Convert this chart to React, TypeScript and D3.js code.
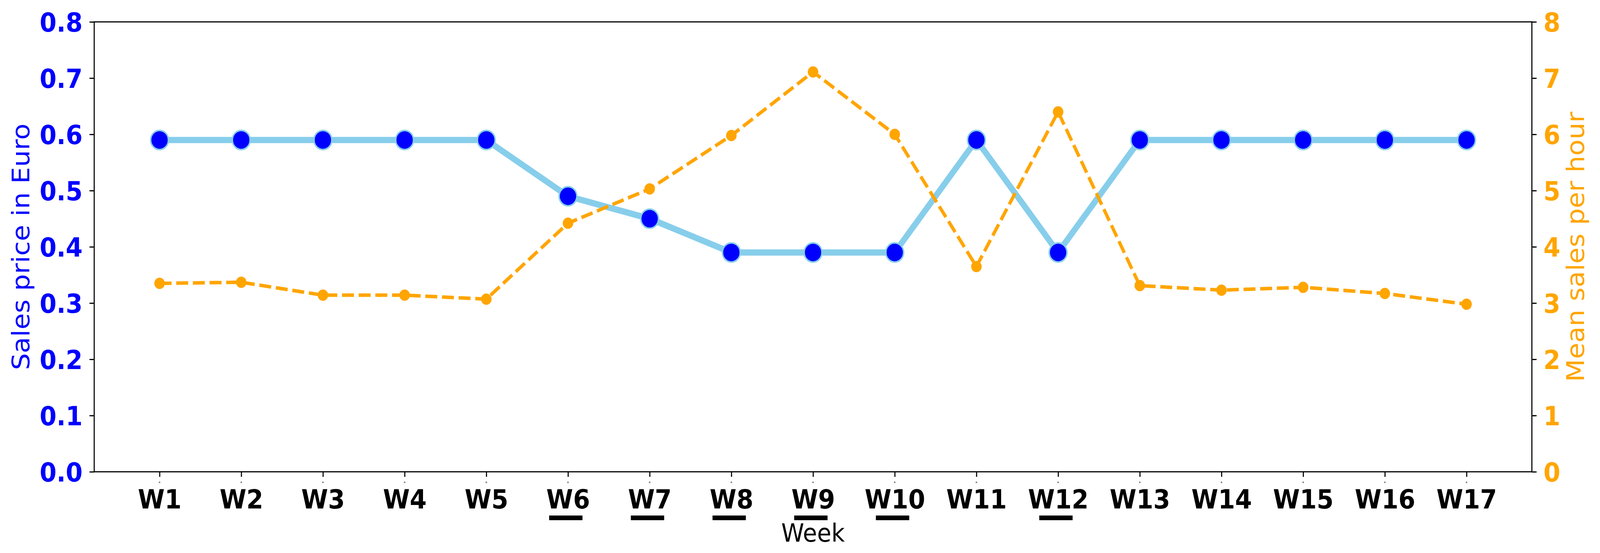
import { useEffect, useRef } from "react";
import { select, scaleLinear, scalePoint, axisBottom, axisLeft, axisRight, line, format } from "d3";

const weeks = ["W1", "W2", "W3", "W4", "W5", "W6", "W7", "W8", "W9", "W10", "W11", "W12", "W13", "W14", "W15", "W16", "W17"];
const salesPrice = [0.59, 0.59, 0.59, 0.59, 0.59, 0.49, 0.45, 0.39, 0.39, 0.39, 0.59, 0.39, 0.59, 0.59, 0.59, 0.59, 0.59];
const meanSales = [3.35, 3.37, 3.14, 3.14, 3.07, 4.42, 5.03, 5.98, 7.11, 6.0, 3.65, 6.4, 3.31, 3.23, 3.28, 3.17, 2.98];
const underlinedWeeks = ["W6", "W7", "W8", "W9", "W10", "W12"];
const priceTicks = [0, 0.1, 0.2, 0.3, 0.4, 0.5, 0.6, 0.7, 0.8];
const salesTicks = [0, 1, 2, 3, 4, 5, 6, 7, 8];

const W = 4416;
const H = 1416;
const FONT = "'DejaVu Sans', sans-serif";
const BLUE = "#0000ff";
const ORANGE = "#ffa500";
const SKY = "#87ceeb";

const App = () => {
  const svgRef = useRef<SVGSVGElement>(null);

  useEffect(() => {
    const svg = select(svgRef.current);
    svg.selectAll("*").remove();

    const left = 260, right = 4228, top = 56, bottom = 1208;

    const x: any = scalePoint().domain(weeks).range([left, right]).padding(0.8);
    const yPrice: any = scaleLinear().domain([0, 0.8]).range([bottom, top]);
    const ySales: any = scaleLinear().domain([0, 8]).range([bottom, top]);

    // price line (first axes)
    const priceLine: any = line<number>()
      .x((d, i) => x(weeks[i]))
      .y((d) => yPrice(d));
    svg.append("path")
      .datum(salesPrice)
      .attr("d", priceLine)
      .attr("fill", "none")
      .attr("stroke", SKY)
      .attr("stroke-width", 16);
    svg.append("g")
      .selectAll("circle")
      .data(salesPrice)
      .join("circle")
      .attr("cx", (d, i) => x(weeks[i]))
      .attr("cy", (d) => yPrice(d))
      .attr("r", 24.5)
      .attr("fill", BLUE)
      .attr("stroke", SKY)
      .attr("stroke-width", 4);

    // sales line (twin axes, on top)
    const salesLine: any = line<number>()
      .x((d, i) => x(weeks[i]))
      .y((d) => ySales(d));
    svg.append("path")
      .datum(meanSales)
      .attr("d", salesLine)
      .attr("fill", "none")
      .attr("stroke", ORANGE)
      .attr("stroke-width", 9)
      .attr("stroke-dasharray", "33 13");
    svg.append("g")
      .selectAll("circle")
      .data(meanSales)
      .join("circle")
      .attr("cx", (d, i) => x(weeks[i]))
      .attr("cy", (d) => ySales(d))
      .attr("r", 14.5)
      .attr("fill", ORANGE);

    // x axis
    const gx = svg.append("g")
      .attr("transform", `translate(0,${bottom})`)
      .call(axisBottom(x).tickSize(13).tickSizeOuter(0));
    gx.select(".domain").remove();
    gx.selectAll("line").attr("stroke", "#000").attr("stroke-width", 3);
    gx.selectAll("text")
      .attr("y", 94)
      .attr("dy", null)
      .attr("fill", "#000")
      .attr("font-size", 67)
      .attr("font-weight", "bold")
      .attr("font-family", FONT);

    // little grey marks under each tick
    svg.append("g")
      .selectAll("rect")
      .data(weeks)
      .join("rect")
      .attr("x", (d) => x(d) - 2)
      .attr("y", 1233)
      .attr("width", 4)
      .attr("height", 4)
      .attr("fill", "#888");

    // underlines below selected weeks
    svg.append("g")
      .selectAll("rect")
      .data(underlinedWeeks)
      .join("rect")
      .attr("x", (d) => x(d) - 52)
      .attr("y", 1320)
      .attr("width", 92)
      .attr("height", 12)
      .attr("fill", "#000");

    // left axis
    const gl = svg.append("g")
      .attr("transform", `translate(${left},0)`)
      .call(axisLeft(yPrice).tickValues(priceTicks).tickFormat(format(".1f")).tickSize(13).tickPadding(19).tickSizeOuter(0));
    gl.select(".domain").remove();
    gl.selectAll("line").attr("stroke", "#000").attr("stroke-width", 3);
    gl.selectAll("text")
      .attr("dy", "0.37em")
      .attr("fill", BLUE)
      .attr("font-size", 67)
      .attr("font-weight", "bold")
      .attr("font-family", FONT);

    // right axis
    const gr = svg.append("g")
      .attr("transform", `translate(${right},0)`)
      .call(axisRight(ySales).tickValues(salesTicks).tickFormat(format("d")).tickSize(13).tickPadding(19).tickSizeOuter(0));
    gr.select(".domain").remove();
    gr.selectAll("line").attr("stroke", "#000").attr("stroke-width", 3);
    gr.selectAll("text")
      .attr("dy", "0.37em")
      .attr("fill", ORANGE)
      .attr("font-size", 67)
      .attr("font-weight", "bold")
      .attr("font-family", FONT);

    // spines
    svg.append("rect")
      .attr("x", left)
      .attr("y", top)
      .attr("width", right - left)
      .attr("height", bottom - top)
      .attr("fill", "none")
      .attr("stroke", "#000")
      .attr("stroke-width", 3);

    // axis titles
    svg.append("text")
      .attr("x", (left + right) / 2)
      .attr("y", 1387)
      .attr("text-anchor", "middle")
      .attr("font-size", 64)
      .attr("font-family", FONT)
      .attr("fill", "#000")
      .text("Week");
    svg.append("text")
      .attr("transform", `translate(81,${(top + bottom) / 2}) rotate(-90)`)
      .attr("text-anchor", "middle")
      .attr("font-size", 68)
      .attr("font-family", FONT)
      .attr("fill", BLUE)
      .text("Sales price in Euro");
    svg.append("text")
      .attr("transform", `translate(4372,${(top + bottom) / 2}) rotate(-90)`)
      .attr("text-anchor", "middle")
      .attr("font-size", 68)
      .attr("font-family", FONT)
      .attr("fill", ORANGE)
      .text("Mean sales per hour");
  }, []);

  // fill the whole viewport so nothing is cut off at the edges
  return (
    <svg
      ref={svgRef}
      viewBox={`0 0 ${W} ${H}`}
      preserveAspectRatio="none"
      style={{ position: "fixed", left: 0, top: 0, width: "100vw", height: "100vh", background: "#fff", display: "block" }}
    />
  );
};

export default App;
